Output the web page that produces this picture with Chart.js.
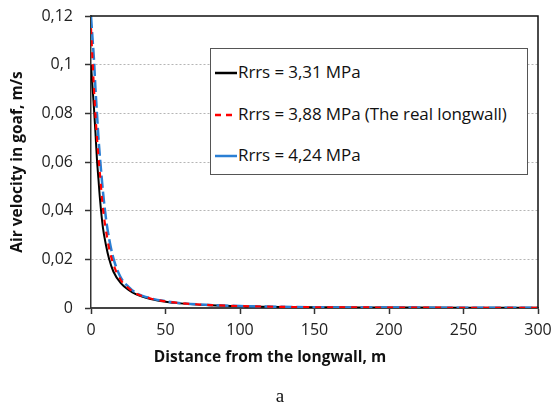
<!DOCTYPE html>
<html>
<head>
<meta charset="utf-8">
<script src="https://cdn.jsdelivr.net/npm/chart.js@4/dist/chart.umd.min.js"></script>
<style>
  html, body { margin:0; padding:0; background:#fff; }
  #wrap { position:relative; width:555px; height:409px; font-family:"Open Sans", sans-serif; }
  #legend { position:absolute; left:210px; top:48px; width:318px; height:127px; border:1.5px solid #555; background:#fff; box-sizing:border-box; }
  .item { position:absolute; left:4px; font-size:17px; color:#111; white-space:nowrap; line-height:20px; letter-spacing:-0.1px; }
  .item svg { vertical-align:middle; margin-right:1px; }
  #xtitle { position:absolute; left:0; width:540px; top:345px; text-align:center; font-weight:bold; font-size:15.5px; color:#111; }
  #caption { position:absolute; left:0; width:560px; top:385px; text-align:center; font-family:"Liberation Serif", serif; font-size:19px; color:#111; }
</style>
</head>
<body>
<div id="wrap">
  <canvas id="chart"></canvas>
  <div id="legend"></div>
  <div id="xtitle">Distance from the longwall, m</div>
  <div id="caption">a</div>
</div>
<script>
// distance from the longwall, m
const distances = [0, 1, 2, 3, 4, 5, 6, 8, 10, 12, 15, 20, 25, 30, 40, 50, 60, 80, 100, 150, 200, 250, 300];
// air velocity in goaf, m/s
const v331 = [0.100, 0.091, 0.082, 0.072, 0.061, 0.053, 0.045, 0.033, 0.026, 0.0205, 0.015, 0.0102, 0.0075, 0.0057, 0.0037, 0.0026, 0.0019, 0.0011, 0.0007, 0.0003, 0.0002, 0.0001, 0.0001];
const v388 = [0.115, 0.102, 0.090, 0.079, 0.070, 0.062, 0.055, 0.041, 0.032, 0.025, 0.018, 0.0115, 0.0082, 0.006, 0.0039, 0.0027, 0.002, 0.0012, 0.0008, 0.0003, 0.0002, 0.0001, 0.0001];
const v424 = [0.120, 0.111, 0.102, 0.090, 0.080, 0.070, 0.062, 0.048, 0.037, 0.029, 0.0205, 0.0125, 0.0088, 0.0063, 0.004, 0.0028, 0.002, 0.0012, 0.0008, 0.0003, 0.0002, 0.0001, 0.0001];
const seriesLabels = ['Rrrs = 3,31 MPa', 'Rrrs = 3,88 MPa (The real longwall)', 'Rrrs = 4,24 MPa'];

const pts = arr => arr.map((v, i) => ({ x: distances[i], y: v }));

// legend drawn as html box inside the plot
const legendLines = [
  '<svg width="22" height="4"><line x1="0" y1="2" x2="22" y2="2" stroke="#000" stroke-width="2.5"/></svg>',
  '<svg width="22" height="4"><line x1="0" y1="2" x2="22" y2="2" stroke="#f00" stroke-width="2.5" stroke-dasharray="6,5"/></svg>',
  '<svg width="22" height="4"><line x1="0" y1="2" x2="22" y2="2" stroke="#2a7fd4" stroke-width="2.5"/></svg>'
];
const legendTops = [13, 55, 96];
document.getElementById('legend').innerHTML = seriesLabels.map((l, i) =>
  `<div class="item" style="top:${legendTops[i]}px">${legendLines[i]}${l}</div>`).join('');

// top + right frame of plot area
const frame = {
  id: 'frame',
  afterDraw(chart) {
    const { ctx, chartArea: a } = chart;
    ctx.save();
    ctx.strokeStyle = '#111';
    ctx.lineWidth = 1.5;
    ctx.beginPath();
    ctx.moveTo(a.left, a.top);
    ctx.lineTo(a.right, a.top);
    ctx.lineTo(a.right, a.bottom);
    ctx.stroke();
    ctx.restore();
  }
};

const fmt = v => v === 0 ? '0' : String(Math.round(v * 100) / 100).replace('.', ',');

new Chart(document.getElementById('chart'), {
  type: 'line',
  data: {
    datasets: [
      { label: seriesLabels[0], data: pts(v331), borderColor: '#000', borderWidth: 2, pointRadius: 0, cubicInterpolationMode: 'monotone', order: 2 },
      { label: seriesLabels[1], data: pts(v388), borderColor: '#f00', borderWidth: 2.2, borderDash: [6, 6], pointRadius: 0, cubicInterpolationMode: 'monotone', order: 0 },
      { label: seriesLabels[2], data: pts(v424), borderColor: '#2a7fd4', borderWidth: 2.5, borderDash: [12, 4], pointRadius: 0, cubicInterpolationMode: 'monotone', order: 1 }
    ]
  },
  options: {
    responsive: true, maintainAspectRatio: false, animation: false,
    layout: { padding: { left: 0, top: 16, right: 17, bottom: 0 } },
    plugins: { legend: { display: false }, tooltip: { enabled: false } },
    scales: {
      x: {
        type: 'linear', min: 0, max: 300,
        ticks: { stepSize: 50, color: '#222', padding: 7, font: { family: 'Open Sans', size: 16 } },
        grid: { drawOnChartArea: false, tickLength: 6, tickColor: '#333', tickWidth: 1.5 },
        border: { color: '#444', width: 2 },
        afterFit: s => { s.height = 101; s.paddingLeft = 0; s.paddingRight = 0; }
      },
      y: {
        min: 0, max: 0.12,
        ticks: { stepSize: 0.02, color: '#222', padding: 12, font: { family: 'Open Sans', size: 16 }, callback: fmt },
        grid: { color: c => (c.tick && c.tick.value > 0 && c.tick.value < 0.12) ? '#b5b5b5' : 'rgba(0,0,0,0)', tickColor: '#333', tickLength: 6, tickWidth: 1.5 },
        border: { color: '#333', width: 1.5, dash: [2, 2] },
        title: { display: true, text: 'Air velocity in goaf, m/s', color: '#111', font: { family: 'Open Sans', size: 15.5, weight: 'bold' }, padding: { top: 8, bottom: 0 } },
        afterFit: s => { s.width = 91; s.paddingTop = 0; s.paddingBottom = 0; }
      }
    }
  },
  plugins: [frame]
});
</script>
</body>
</html>
